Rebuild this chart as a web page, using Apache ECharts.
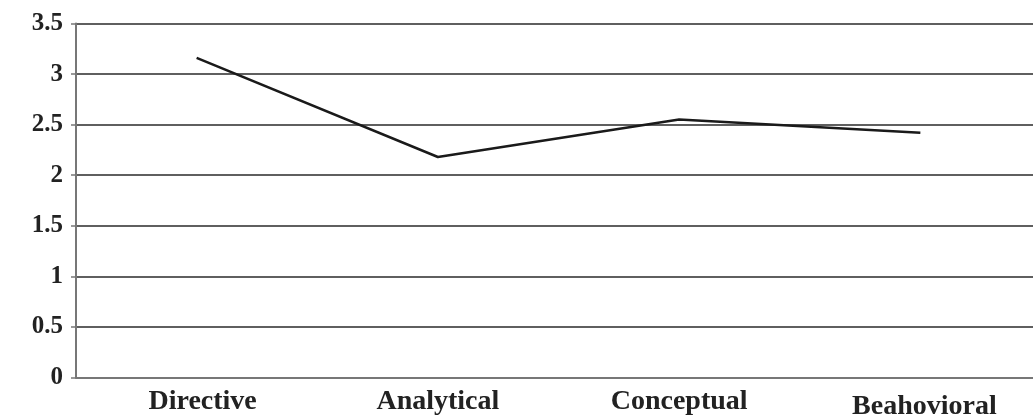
<!DOCTYPE html>
<html>
<head>
<meta charset="utf-8">
<script src="https://cdn.jsdelivr.net/npm/echarts@6/dist/echarts.min.js"></script>
<style>html,body{margin:0;padding:0;background:#fff}#c{width:1033px;height:417px}</style>
</head>
<body>
<div id="c"></div>
<script>
const categories = ['Directive', 'Analytical', 'Conceptual', 'Beahovioral'];
const values = [3.16, 2.18, 2.55, 2.42];
const yMin = 0, yMax = 3.5, yStep = 0.5;

const chart = echarts.init(document.getElementById('c'), null, {renderer: 'canvas'});
chart.setOption({
  animation: false,
  backgroundColor: '#ffffff',
  grid: {left: 76, width: 965, top: 23.5, bottom: 39.5, containLabel: false, outerBoundsMode: 'none'},
  xAxis: {
    type: 'category',
    data: categories,
    boundaryGap: true,
    axisLine: {show: true, lineStyle: {color: '#777', width: 2}},
    axisTick: {show: false},
    axisLabel: {
      margin: 10,
      color: '#222',
      formatter: function (v) {
        if (v === 'Beahovioral') return '{b|' + v + '}';
        if (v === 'Directive') return '{d|' + v + '}';
        return '{a|' + v + '}';
      },
      rich: {
        a: {fontFamily: 'Liberation Serif', fontWeight: 'bold', fontSize: 28, color: '#222'},
        d: {fontFamily: 'Liberation Serif', fontWeight: 'bold', fontSize: 28, color: '#222', padding: [0, 0, 0, 12]},
        b: {fontFamily: 'Liberation Serif', fontWeight: 'bold', fontSize: 28, color: '#222', padding: [5, 0, 0, 8]}
      }
    },
    splitLine: {show: false}
  },
  yAxis: {
    type: 'value',
    min: yMin, max: yMax, interval: yStep,
    axisLine: {show: true, lineStyle: {color: '#777', width: 2}},
    axisTick: {show: true, length: 5, inside: false, lineStyle: {color: '#777', width: 1.5}},
    axisLabel: {
      margin: 13,
      fontFamily: 'Liberation Serif',
      fontWeight: 'bold',
      fontSize: 25,
      color: '#222'
    },
    splitLine: {show: true, lineStyle: {color: '#2a2a2a', width: 1.5}}
  },
  series: [{
    type: 'line',
    data: values,
    symbol: 'none',
    lineStyle: {color: '#1a1a1a', width: 2.5},
    z: 5
  }]
});
</script>
</body>
</html>
